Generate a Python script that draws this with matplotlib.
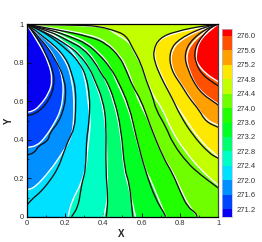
import matplotlib
matplotlib.use('Agg')
import matplotlib.pyplot as plt
from matplotlib.patches import PathPatch
from matplotlib.path import Path
from matplotlib.ticker import MultipleLocator

plt.rcParams['font.family'] = ['Liberation Sans', 'DejaVu Sans']

levels = [271.2, 271.6, 272.0, 272.4, 272.8, 273.2, 273.6, 274.0, 274.4, 274.8, 275.2, 275.6, 276.0]
band_colors = ['#0800f0', '#0044ff', '#0090ff', '#00e0ff', '#00ffc4', '#00ff70', '#00ff22',
               '#22ff00', '#70ff00', '#c4ff00', '#ffe800', '#ffa000', '#ff5000', '#ff0000']
tick_labels = ['%.1f' % v for v in levels]

# contour lines, white = band edge, black = second solution
w_271_2 = [(0, 1), (.065, .90), (.117, .797), (.135, .71), (.117, .642), (.065, .572), (.03, .548), (0, .543)]
b_271_2 = [(0, 1), (.048, .944), (.10, .849), (.143, .745), (.143, .676), (.117, .607), (.074, .555), (.03, .53), (0, .526)]
w_271_6 = [(0, 1), (.10, .901), (.161, .806), (.19, .71), (.19, .624), (.178, .555), (.147, .489), (.095, .41), (.052, .368), (0, .36)]
b_271_6 = [(0, 1), (.08, .92), (.15, .82), (.20, .71), (.205, .62), (.19, .55), (.165, .489), (.121, .437), (.112, .394),
           (.06, .368), (.043, .334), (0, .32)]
w_272_0 = [(0, 1), (.135, .901), (.213, .797), (.239, .693), (.247, .607), (.246, .498), (.234, .411), (.182, .325),
           (.121, .239), (.043, .152), (0, .14)]
b_272_0 = [(0, 1), (.10, .93), (.205, .83), (.24, .73), (.256, .663), (.256, .555), (.25, .46), (.216, .394),
           (.19, .325), (.165, .255), (.121, .186), (.069, .125), (.035, .099), (0, .06)]
w_272_4 = [(0, 1), (.06, .985), (.182, .925), (.268, .82), (.303, .735), (.32, .607), (.332, .498), (.329, .446),
           (.315, .325), (.312, .27), (.286, .175), (.234, .08), (.216, 0)]
b_272_4 = [(0, 1), (.08, .97), (.225, .858), (.277, .797), (.312, .728), (.329, .624), (.329, .537), (.32, .45),
           (.312, .399), (.308, .243), (.291, .187), (.282, .135), (.268, .05), (.234, 0)]
w_272_8 = [(0, 1), (.10, .97), (.22, .892), (.275, .85), (.325, .78), (.35, .715), (.392, .607), (.41, .49), (.416, .408),
           (.419, .235), (.424, .097), (.402, 0)]
b_272_8 = [(0, 1), (.10, .96), (.225, .884), (.277, .84), (.329, .771), (.355, .71), (.398, .607), (.416, .486),
           (.412, .243), (.425, .097), (.416, 0)]
w_273_2 = [(0, 1), (.12, .97), (.225, .92), (.294, .885), (.355, .815), (.395, .735), (.412, .71), (.452, .607), (.49, .451),
           (.508, .243), (.53, .17), (.568, 0)]
b_273_2 = [(0, 1), (.12, .965), (.225, .91), (.294, .875), (.355, .806), (.398, .728), (.416, .71), (.459, .607),
           (.494, .451), (.511, .243), (.537, .174), (.554, 0)]
w_273_6 = [(0, 1), (.13, .975), (.225, .945), (.312, .91), (.381, .85), (.433, .79), (.465, .71), (.53, .572), (.568, .42),
           (.62, .24), (.64, .208), (.684, .104), (.727, 0)]
b_273_6 = [(0, 1), (.13, .97), (.225, .936), (.312, .901), (.381, .84), (.433, .78), (.475, .71), (.537, .572),
           (.571, .416), (.623, .226), (.675, .087), (.718, .02), (.725, 0)]
w_274_0 = [(0, 1), (.17, .975), (.329, .945), (.41, .915), (.485, .84), (.525, .77), (.553, .69), (.585, .6), (.642, .49),
           (.705, .32), (.76, .24), (.81, .13), (.84, .07), (.891, 0)]
b_274_0 = [(0, 1), (.17, .97), (.329, .936), (.416, .901), (.485, .832), (.519, .763), (.554, .676), (.597, .607),
           (.64, .486), (.71, .312), (.762, .226), (.805, .122), (.84, .052), (.883, .02), (.89, 0)]
w_274_4 = [(0, 1), (.19, .997), (.3, .992), (.42, .985), (.44, .965), (.537, .91), (.563, .85), (.60, .79), (.625, .71),
           (.665, .62), (.71, .56), (.755, .45), (.822, .347), (.909, .243), (1, .164)]
b_274_4 = [(0, 1), (.294, .996), (.381, .988), (.45, .97), (.519, .944), (.554, .875), (.597, .797), (.623, .71),
           (.658, .624), (.675, .555), (.727, .468), (.762, .382), (.84, .278), (.909, .217), (1, .15)]
w_274_8 = [(1, 1), (.942, .99), (.77, .955), (.69, .92), (.665, .87), (.672, .806), (.705, .73), (.73, .68), (.762, .607),
           (.797, .555), (.909, .39), (1, .312)]
b_274_8 = [(1, 1), (.942, .996), (.77, .962), (.692, .927), (.661, .866), (.667, .806), (.70, .728), (.727, .676),
           (.765, .605), (.80, .53), (.866, .425), (.952, .33), (1, .304)]
w_275_2 = [(1, 1), (.95, .99), (.80, .92), (.75, .85), (.76, .76), (.82, .67), (.86, .61), (.935, .505), (1, .475)]
b_275_2 = [(1, 1), (.952, .996), (.796, .927), (.744, .858), (.753, .763), (.813, .676), (.849, .616), (.90, .555),
           (.935, .494), (1, .465)]
w_275_6 = [(1, 1), (.97, .99), (.87, .915), (.83, .84), (.85, .75), (.90, .655), (1, .585)]
b_275_6 = [(1, 1), (.97, .996), (.865, .927), (.822, .849), (.84, .763), (.90, .65), (.987, .59), (1, .58)]
w_276_0 = [(1, 1), (.966, .979), (.897, .91), (.883, .832), (.888, .80), (.932, .745), (1, .702)]
b_276_0 = [(1, 1), (.978, .996), (.917, .944), (.874, .866), (.883, .797), (.917, .737), (.978, .694), (1, .68)]

white_lines = [w_271_2, w_271_6, w_272_0, w_272_4, w_272_8, w_273_2, w_273_6, w_274_0, w_274_4, w_274_8, w_275_2, w_275_6, w_276_0]
black_lines = [b_271_2, b_271_6, b_272_0, b_272_4, b_272_8, b_273_2, b_273_6, b_274_0, b_274_4, b_274_8, b_275_2, b_275_6, b_276_0]


def curved_path(line, closing=()):
    # quadratic curves through the midpoints so the read points do not show as corners
    verts = [line[0]]
    codes = [Path.MOVETO]
    for p, q in zip(line[1:-1], line[2:]):
        verts += [p, ((p[0] + q[0]) / 2, (p[1] + q[1]) / 2)]
        codes += [Path.CURVE3, Path.CURVE3]
    verts.append(line[-1])
    codes.append(Path.LINETO)
    for p in closing:
        verts.append(p)
        codes.append(Path.LINETO)
    return Path(verts, codes)


W, H = 262, 242
fig = plt.figure(figsize=(W / 100, H / 100), dpi=100)
ax = fig.add_axes([26.7 / W, 1 - 216.8 / H, 191.5 / W, 192.5 / H])

# band fills, each one covers everything above its level
ax.set_facecolor(band_colors[0])
for i, line in enumerate(white_lines):
    end_x, end_y = line[-1]
    if end_x == 1 or line[0][0] == 1:
        closing = [(1, 1)]
    elif end_y == 0:
        closing = [(1, 0), (1, 1)]
    else:
        closing = [(0, 0), (1, 0), (1, 1)]
    ax.add_patch(PathPatch(curved_path(line, closing), facecolor=band_colors[i + 1], lw=0, zorder=1))

for line in white_lines:
    ax.add_patch(PathPatch(curved_path(line), facecolor='none', edgecolor='white', lw=1.0, zorder=2))
for line in black_lines:
    ax.add_patch(PathPatch(curved_path(line), facecolor='none', edgecolor='#111111', lw=0.95, zorder=3))

ax.set_xlim(0, 1)
ax.set_ylim(0, 1)
ax.xaxis.set_major_locator(MultipleLocator(0.2))
ax.yaxis.set_major_locator(MultipleLocator(0.2))
ax.xaxis.set_minor_locator(MultipleLocator(0.1))
ax.yaxis.set_minor_locator(MultipleLocator(0.1))
ax.xaxis.set_major_formatter(lambda v, pos: '%g' % round(v, 1))
ax.yaxis.set_major_formatter(lambda v, pos: '%g' % round(v, 1))
ax.tick_params(which='major', direction='in', length=3, width=0.6, labelsize=5.5, pad=2, labelcolor='#333333')
ax.tick_params(which='minor', direction='in', length=1.5, width=0.5)
for spine in ax.spines.values():
    spine.set_linewidth(0.9)
    spine.set_zorder(5)
ax.spines['right'].set_color('#444444')
ax.set_xlabel('X', fontsize=7, fontweight='bold', color='#222222')
ax.set_ylabel('Y', fontsize=7, fontweight='bold', color='#222222')
ax.xaxis.set_label_coords(0.495, -0.065)
ax.yaxis.set_label_coords(-0.068, 0.5)

# colour key
cax = fig.add_axes([221.5 / W, 1 - 216.5 / H, 10.5 / W, 188 / H])
edges = [levels[0] - 0.2] + levels + [levels[-1] + 0.2]
for i, c in enumerate(band_colors):
    cax.barh(edges[i], 1, height=edges[i + 1] - edges[i], left=0, align='edge', color=c, lw=0)
cax.set_xlim(0, 1)
cax.set_ylim(edges[0], edges[-1])
cax.set_xticks([])
cax.yaxis.tick_right()
cax.set_yticks(levels)
cax.set_yticklabels(tick_labels)
cax.tick_params(axis='y', length=0, labelsize=5.5, pad=3.5, labelcolor='#333333')
for spine in cax.spines.values():
    spine.set_linewidth(0.5)
    spine.set_color('#b8bcd8')

fig.savefig('out.png', dpi=100)
